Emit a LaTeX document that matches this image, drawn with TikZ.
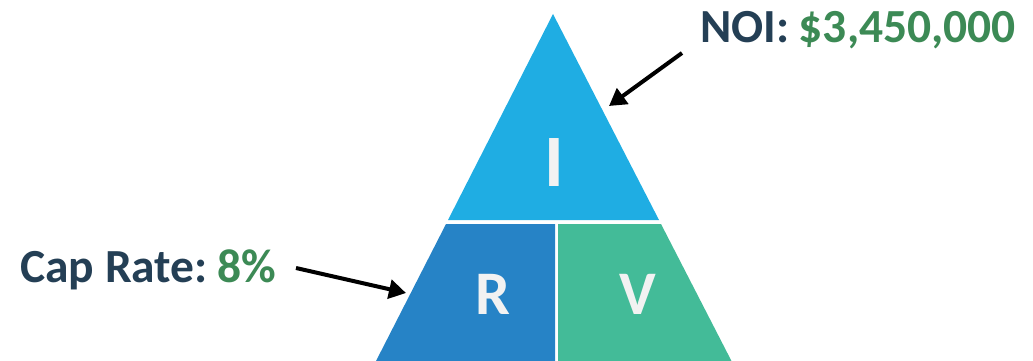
\documentclass[tikz,border=0pt]{standalone}
\usepackage{fontspec}
\setmainfont{Carlito}
\usetikzlibrary{arrows.meta}
\definecolor{topblue}{HTML}{1FADE3}
\definecolor{midblue}{HTML}{2683C6}
\definecolor{seagreen}{HTML}{43BB98}
\definecolor{lettergray}{HTML}{F2F2F2}
\definecolor{navytext}{HTML}{243F55}
\definecolor{valgreen}{HTML}{3C8A55}
\tikzset{
  piece/.style={draw=none},
  letter/.style={text=lettergray, font=\bfseries\fontsize{62}{62}\selectfont, inner sep=0pt, anchor=base},
  label/.style={text=navytext, font=\bfseries\fontsize{47.5}{47.5}\selectfont, inner sep=0pt, anchor=base west},
  pointer/.style={line width=4pt, -{Triangle[length=17pt,width=19pt]}}
}
\begin{document}
\begin{tikzpicture}[x=1pt,y=-1pt]
\useasboundingbox (0,0) rectangle (1033,361);
\begin{scope}
\clip (0,0) rectangle (1033,361);
% top section of the pyramid
\fill[piece, topblue] (553,14) -- (659,220) -- (448,220) -- cycle;
% lower left and lower right sections
\fill[piece, midblue] (446,224) -- (555,224) -- (555,362) -- (375.5,362) -- cycle;
\fill[piece, seagreen] (558,224) -- (661,224) -- (732,362) -- (558,362) -- cycle;
\end{scope}
% letters
\node[letter, font=\bfseries\fontsize{74}{74}\selectfont] (li) at (554,186) {I};
\node[letter] (lr) at (493,314) {R};
\node[letter] (lv) at (637.5,314) {V};
% labels
\node[label] (noi) at (700,43) {NOI:\hspace{0.2em}\textcolor{valgreen}{\$3,450,000}};
\node[label] (cap) at (20,282) {Cap Rate:\hspace{0.2em}\textcolor{valgreen}{8\%}};
% pointers
\coordinate (noistart) at (682,53);
\coordinate (noitip) at (609,106);
\coordinate (capstart) at (296,268);
\coordinate (captip) at (406,293);
\draw[pointer] (noistart) -- (noitip);
\draw[pointer] (capstart) -- (captip);
\end{tikzpicture}
\end{document}
